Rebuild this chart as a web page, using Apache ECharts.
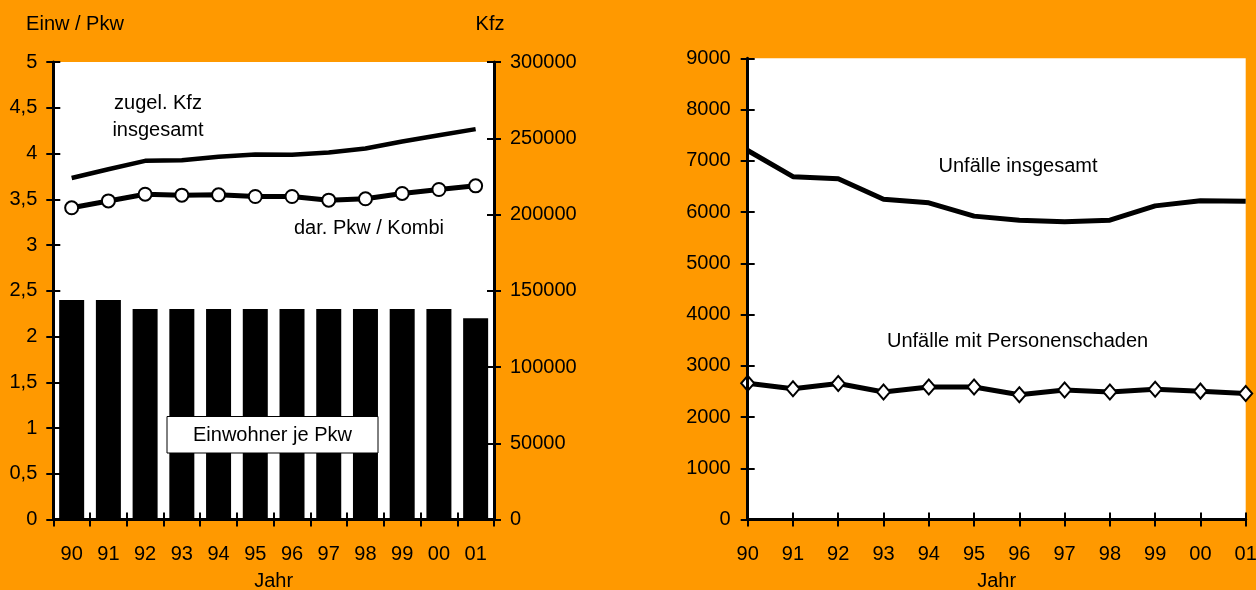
<!DOCTYPE html>
<html>
<head>
<meta charset="utf-8">
<script src="https://cdn.jsdelivr.net/npm/echarts@6/dist/echarts.min.js"></script>
<style>
html,body{margin:0;padding:0;background:#FF9900;}
#c{width:1256px;height:590px;}
</style>
</head>
<body>
<div id="c"></div>
<script>
const years = ['90','91','92','93','94','95','96','97','98','99','00','01'];
const einwJePkw = [2.4, 2.4, 2.3, 2.3, 2.3, 2.3, 2.3, 2.3, 2.3, 2.3, 2.3, 2.2];
const kfzInsgesamt = [223900, 229700, 235200, 235500, 237800, 239400, 239200, 240700, 243300, 247900, 252000, 256000];
const pkwKombi = [204400, 208900, 213300, 212700, 212900, 211800, 211800, 209400, 210300, 213800, 216400, 218800];
const unfaelleInsgesamt = [7200, 6690, 6650, 6250, 6180, 5920, 5840, 5810, 5840, 6120, 6220, 6210];
const unfaellePersonen = [2660, 2550, 2655, 2487, 2585, 2585, 2435, 2526, 2487, 2540, 2505, 2460];
const leftTicks = {min: 0, max: 5, interval: 0.5};
const kfzTicks = {min: 0, max: 300000, interval: 50000};
const unfTicks = {min: 0, max: 9000, interval: 1000};

const FONT = 'Liberation Sans, Arial, sans-serif';
const FS = 20;
const axisLine = {show: true, lineStyle: {color: '#000', width: 3}};
const tickOut = {show: true, length: 7, lineStyle: {color: '#000', width: 2}};
const tickIn = {show: true, inside: true, length: 7, lineStyle: {color: '#000', width: 2}};
const lbl = (m, f) => ({color: '#000', fontSize: FS, fontFamily: FONT, margin: m, formatter: f || (v => String(v))});

const chart = echarts.init(document.getElementById('c'), null, {renderer: 'canvas'});

function txt(x, y, t, extra) {
  return Object.assign({
    type: 'text', x: x, y: y, z: 50,
    style: {text: t, fill: '#000', font: FS + 'px ' + FONT, textAlign: 'center', textVerticalAlign: 'middle'}
  }, extra || {});
}

chart.setOption({
  backgroundColor: '#FF9900',
  animation: false,
  grid: [
    {left: 53.3, top: 62, width: 440.7, height: 457.5, show: true, backgroundColor: '#fff', borderWidth: 0,
     containLabel: false, outerBoundsMode: 'none'},
    {left: 747.7, top: 58.3, width: 498, height: 461.2, show: true, backgroundColor: '#fff', borderWidth: 0,
     containLabel: false, outerBoundsMode: 'none'}
  ],
  xAxis: [
    {gridIndex: 0, type: 'category', data: years, boundaryGap: true, axisLine: axisLine, axisTick: tickOut,
     axisLabel: lbl(25), name: 'Jahr', nameLocation: 'middle', nameGap: 52,
     nameTextStyle: {color: '#000', fontSize: FS, fontFamily: FONT}, splitLine: {show: false}, z: 10},
    {gridIndex: 0, type: 'category', data: years, boundaryGap: true, position: 'bottom', axisLine: {show: false},
     axisTick: tickIn, axisLabel: {show: false}, splitLine: {show: false}, z: 10},
    {gridIndex: 1, type: 'category', data: years, boundaryGap: false, axisLine: axisLine, axisTick: tickOut,
     axisLabel: lbl(25), name: 'Jahr', nameLocation: 'middle', nameGap: 52,
     nameTextStyle: {color: '#000', fontSize: FS, fontFamily: FONT}, splitLine: {show: false}, z: 10},
    {gridIndex: 1, type: 'category', data: years, boundaryGap: false, position: 'bottom', axisLine: {show: false},
     axisTick: tickIn, axisLabel: {show: false}, splitLine: {show: false}, z: 10}
  ],
  yAxis: [
    {gridIndex: 0, type: 'value', position: 'left', min: leftTicks.min, max: leftTicks.max, interval: leftTicks.interval,
     axisLine: axisLine, axisTick: tickOut, splitLine: {show: false},
     axisLabel: lbl(16, v => String(v).replace('.', ',')), z: 10},
    {gridIndex: 0, type: 'value', position: 'right', min: kfzTicks.min, max: kfzTicks.max, interval: kfzTicks.interval,
     axisLine: axisLine, axisTick: tickOut, splitLine: {show: false}, axisLabel: lbl(16), z: 10},
    {gridIndex: 0, type: 'value', position: 'left', min: leftTicks.min, max: leftTicks.max, interval: leftTicks.interval,
     axisLine: {show: false}, axisTick: tickIn, splitLine: {show: false}, axisLabel: {show: false}, z: 10},
    {gridIndex: 0, type: 'value', position: 'right', min: kfzTicks.min, max: kfzTicks.max, interval: kfzTicks.interval,
     axisLine: {show: false}, axisTick: tickIn, splitLine: {show: false}, axisLabel: {show: false}, z: 10},
    {gridIndex: 1, type: 'value', position: 'left', min: unfTicks.min, max: unfTicks.max, interval: unfTicks.interval,
     axisLine: axisLine, axisTick: tickOut, splitLine: {show: false}, axisLabel: lbl(17), z: 10},
    {gridIndex: 1, type: 'value', position: 'left', min: unfTicks.min, max: unfTicks.max, interval: unfTicks.interval,
     axisLine: {show: false}, axisTick: tickIn, splitLine: {show: false}, axisLabel: {show: false}, z: 10}
  ],
  series: [
    {type: 'bar', name: 'Einwohner je Pkw', xAxisIndex: 0, yAxisIndex: 0, data: einwJePkw, barWidth: 25,
     itemStyle: {color: '#000'}, z: 2},
    {type: 'line', name: 'zugel. Kfz insgesamt', xAxisIndex: 0, yAxisIndex: 1, data: kfzInsgesamt,
     showSymbol: false, symbol: 'none', lineStyle: {color: '#000', width: 4.5}, z: 5},
    {type: 'line', name: 'dar. Pkw / Kombi', xAxisIndex: 0, yAxisIndex: 1, data: pkwKombi,
     symbol: 'circle', symbolSize: 13, lineStyle: {color: '#000', width: 5},
     itemStyle: {color: '#fff', borderColor: '#000', borderWidth: 2}, z: 6},
    {type: 'line', name: 'Unfälle insgesamt', xAxisIndex: 2, yAxisIndex: 4, data: unfaelleInsgesamt,
     symbol: 'none', lineStyle: {color: '#000', width: 5}, z: 5},
    {type: 'line', name: 'Unfälle mit Personenschaden', xAxisIndex: 2, yAxisIndex: 4, data: unfaellePersonen,
     symbol: 'diamond', symbolSize: [13, 15], lineStyle: {color: '#000', width: 5},
     itemStyle: {color: '#fff', borderColor: '#000', borderWidth: 2}, z: 6}
  ],
  graphic: [
    txt(75, 24, 'Einw / Pkw'),
    txt(490, 24, 'Kfz'),
    txt(158, 103, 'zugel. Kfz'),
    txt(158, 130, 'insgesamt'),
    txt(369, 228, 'dar. Pkw / Kombi'),
    {type: 'rect', z: 40, shape: {x: 167, y: 416.5, width: 211, height: 36.5},
     style: {fill: '#fff', stroke: '#000', lineWidth: 1}},
    txt(272.5, 435, 'Einwohner je Pkw'),
    txt(1018, 166, 'Unfälle insgesamt'),
    txt(1017.6, 341, 'Unfälle mit Personenschaden')
  ]
});
</script>
</body>
</html>
